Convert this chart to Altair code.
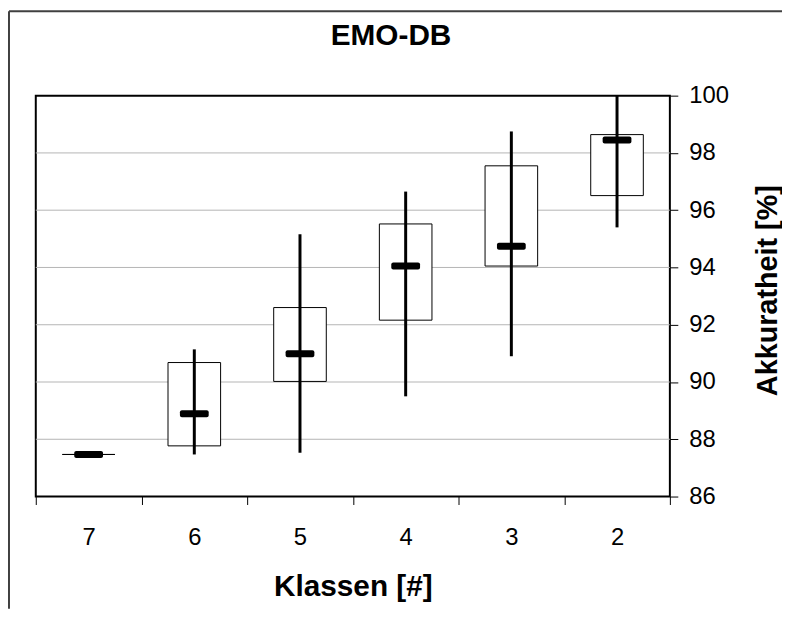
import altair as alt
import pandas as pd

# ---- data ----
categories = ["7", "6", "5", "4", "3", "2"]
whisker_low = [87.47, 87.47, 87.53, 89.50, 90.90, 95.40]
box_low = [87.47, 87.77, 90.02, 92.16, 94.05, 96.51]
median = [87.47, 88.89, 90.99, 94.05, 94.74, 98.45]
box_high = [87.47, 90.68, 92.60, 95.52, 97.55, 98.64]
whisker_high = [87.47, 91.14, 95.16, 96.65, 98.75, 100.0]
y_ticks = [86, 88, 90, 92, 94, 96, 98, 100]
grid_values = [88, 90, 92, 94, 96, 98]
title_text = "EMO-DB"
x_title = "Klassen [#]"
y_title = "Akkuratheit [%]"

df = pd.DataFrame({
    "cat": categories,
    "lo": whisker_low,
    "q1": box_low,
    "med": median,
    "q3": box_high,
    "hi": whisker_high,
})
grid_df = pd.DataFrame({"g": grid_values})
title_df = pd.DataFrame({"t": [title_text]})
frame_df = pd.DataFrame({"k": [0]})

FONT = "Liberation Sans, Arial, sans-serif"
W, H = 639, 404
PAD = {"left": 28, "top": 86, "right": 113, "bottom": 113}

x_axis = alt.Axis(
    title=x_title, labelAngle=0, tickBand="extent", domain=False, grid=False,
    ticks=True, tickSize=8, tickColor="black", tickWidth=1,
    labelFont=FONT, labelFontSize=24, labelColor="black",
    labelBaseline="alphabetic", labelPadding=40,
    titleFont=FONT, titleFontSize=30, titleFontWeight="bold", titleColor="black",
    titleX=W / 2, titleY=100, titleBaseline="alphabetic", titleAlign="center",
)
y_axis = alt.Axis(
    title=y_title, orient="right", values=y_ticks, grid=False, domain=False,
    ticks=True, tickSize=8, tickColor="black", tickWidth=1,
    labelFont=FONT, labelFontSize=24, labelColor="black", labelPadding=11,
    labelFlush=False, labelOverlap=False,
    titleFont=FONT, titleFontSize=29, titleFontWeight="bold", titleColor="black",
    titleAngle=270, titleX=107, titleY=196, titleBaseline="alphabetic",
    titleAlign="center",
)

x_scale = alt.Scale(domain=categories, paddingInner=0, paddingOuter=0)
y_scale = alt.Scale(domain=[86, 100], nice=False, zero=False)

def X():
    return alt.X("cat:N", sort=categories, scale=x_scale, axis=x_axis)

def Y(field):
    return alt.Y(field, type="quantitative", scale=y_scale, axis=y_axis)

grid = alt.Chart(grid_df).mark_rule(color="#b4b4b4", strokeWidth=1).encode(
    y=Y("g")
)

boxes = alt.Chart(df).mark_bar(size=53, fill="white", stroke="black", strokeWidth=1).encode(
    x=X(), y=Y("q1"), y2="q3"
)

whiskers = alt.Chart(df).mark_rule(color="black", strokeWidth=3).encode(
    x=X(), y=Y("lo"), y2="hi"
)

medians = alt.Chart(df).mark_tick(
    color="black", size=29, thickness=7, opacity=1, cornerRadius=2
).encode(x=X(), y=Y("med"))

title = alt.Chart(title_df).mark_text(
    font=FONT, fontSize=30, fontWeight="bold", color="black",
    align="center", baseline="alphabetic"
).encode(x=alt.value(358), y=alt.value(-51), text="t:N")

frame_top = alt.Chart(frame_df).mark_rule(color="#404040", strokeWidth=2).encode(
    x=alt.value(-27), x2=alt.value(W + PAD["right"]), y=alt.value(-85)
)
frame_left = alt.Chart(frame_df).mark_rule(color="#404040", strokeWidth=2).encode(
    x=alt.value(-27), y=alt.value(-85), y2=alt.value(H + PAD["bottom"])
)

chart = alt.layer(
    grid, boxes, whiskers, medians, title, frame_top, frame_left
).properties(
    width=W, height=H,
    autosize=alt.AutoSizeParams(type="none"),
    padding=PAD,
    background="white",
).configure_view(stroke="black", strokeWidth=2)

chart.save("out.html", embed_options={"renderer": "svg", "actions": False})
